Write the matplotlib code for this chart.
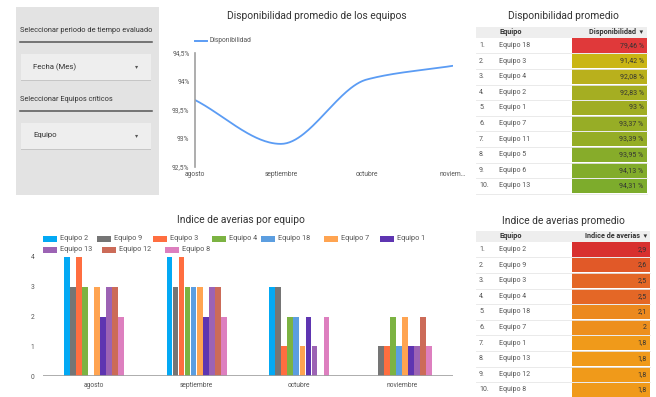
import numpy as np
import matplotlib
matplotlib.use("Agg")
import matplotlib.pyplot as plt
from matplotlib.patches import Rectangle
from matplotlib.colors import LinearSegmentedColormap, to_rgb

plt.rcParams['font.family'] = ['Roboto', 'DejaVu Sans']

# ---------------- data ----------------
months = ["agosto", "septiembre", "octubre", "noviembre"]
month_labels = ["agosto", "septiembre", "octubre", "noviem…"]
disponibilidad = [93.67, 92.90, 94.03, 94.27]

series_names = ["Equipo 2", "Equipo 9", "Equipo 3", "Equipo 4", "Equipo 18",
                "Equipo 7", "Equipo 1", "Equipo 13", "Equipo 12", "Equipo 8"]
eq2 = [4, 4, 3, 0]
eq9 = [3, 3, 3, 1]
eq3 = [4, 4, 1, 1]
eq4 = [3, 3, 2, 2]
eq18 = [0, 3, 2, 1]
eq7 = [3, 3, 1, 2]
eq1 = [2, 2, 2, 1]
eq13 = [3, 3, 1, 1]
eq12 = [3, 3, 0, 2]
eq8 = [2, 2, 2, 1]
series_values = [eq2, eq9, eq3, eq4, eq18, eq7, eq1, eq13, eq12, eq8]
series_colors = ["#03a9f4", "#757575", "#ff6e40", "#7cb342", "#5c9ee0",
                 "#ffa451", "#5e35b1", "#9c63b4", "#cc6b58", "#dd7fbf"]

disp_equipos = ["Equipo 18", "Equipo 3", "Equipo 4", "Equipo 2", "Equipo 1",
                "Equipo 7", "Equipo 11", "Equipo 5", "Equipo 6", "Equipo 13"]
disp_values = [79.46, 91.42, 92.08, 92.83, 93.0, 93.37, 93.39, 93.95, 94.13, 94.31]

aver_equipos = ["Equipo 2", "Equipo 9", "Equipo 3", "Equipo 4", "Equipo 18",
                "Equipo 7", "Equipo 1", "Equipo 13", "Equipo 12", "Equipo 8"]
aver_values = [2.9, 2.6, 2.5, 2.5, 2.1, 2.0, 1.8, 1.8, 1.8, 1.8]

# ---------------- figure ----------------
W, H = 656, 397
fig = plt.figure(figsize=(W / 100, H / 100), dpi=100)
fig.patch.set_facecolor("white")

ov = fig.add_axes([0, 0, 1, 1], zorder=0)
ov.set_xlim(0, W)
ov.set_ylim(H, 0)
ov.axis("off")


def add_ax(x0, y0, x1, y1):
    a = fig.add_axes([x0 / W, 1 - y1 / H, (x1 - x0) / W, (y1 - y0) / H], zorder=2)
    a.patch.set_alpha(0)
    return a


def fmt(v, dec=2):
    s = f"{v:.{dec}f}".rstrip("0").rstrip(".")
    return s.replace(".", ",")


TXT = "#333333"
LBL = "#555555"

# ---------------- left filter panel ----------------
ov.add_patch(Rectangle((16, 7), 143, 188, facecolor="#e3e3e3", edgecolor="none"))
ov.text(20.5, 31, "Seleccionar periodo de tiempo evaluado", fontsize=5.3, color=TXT, va="center")
ov.plot([20, 152], [42.3, 42.3], color="#555555", lw=1.1)
ov.add_patch(Rectangle((21, 55.3), 130, 26, facecolor="#c6c6c6", edgecolor="none"))
ov.add_patch(Rectangle((20.5, 54.3), 130, 26, facecolor="#eeeeee", edgecolor="none"))
ov.text(33, 67, "Fecha (Mes)", fontsize=5.6, color=TXT, va="center")
ov.text(137, 67, "▾", fontsize=4.5, color=LBL, va="center", ha="center")
ov.text(20.5, 99.5, "Seleccionar Equipos críticos", fontsize=5.3, color=TXT, va="center")
ov.plot([20, 152], [111, 111], color="#555555", lw=1.1)
ov.add_patch(Rectangle((21, 123.7), 130, 26, facecolor="#c6c6c6", edgecolor="none"))
ov.add_patch(Rectangle((20.5, 122.7), 130, 26, facecolor="#eeeeee", edgecolor="none"))
ov.text(33, 135.5, "Equipo", fontsize=5.6, color=TXT, va="center")
ov.text(137, 135.5, "▾", fontsize=4.5, color=LBL, va="center", ha="center")

# ---------------- line chart ----------------
line_color = "#5b9cf4"
ov.text(317, 16, "Disponibilidad promedio de los equipos", fontsize=7.4, color=TXT,
        ha="center", va="center")
ov.plot([195, 207], [41, 41], color=line_color, lw=1.4)
ov.text(210, 41, "Disponibilidad", fontsize=4.8, color=LBL, va="center")

axl = add_ax(195, 52.7, 452.7, 166.7)
x = np.arange(len(months), dtype=float)
y = np.array(disponibilidad)
# monotone cubic (Fritsch-Carlson) for the smooth rendering of the line
d = np.diff(y) / np.diff(x)
m = np.zeros_like(y)
m[0], m[-1] = d[0], d[-1]
for i in range(1, len(y) - 1):
    m[i] = 0.0 if d[i - 1] * d[i] <= 0 else 2 / (1 / d[i - 1] + 1 / d[i])
xs, ys = [], []
for i in range(len(y) - 1):
    t = np.linspace(0, 1, 60)
    h = x[i + 1] - x[i]
    h00 = 2 * t**3 - 3 * t**2 + 1
    h10 = t**3 - 2 * t**2 + t
    h01 = -2 * t**3 + 3 * t**2
    h11 = t**3 - t**2
    xs.append(x[i] + t * h)
    ys.append(h00 * y[i] + h10 * h * m[i] + h01 * y[i + 1] + h11 * h * m[i + 1])
axl.plot(np.concatenate(xs), np.concatenate(ys), color=line_color, lw=1.3,
         solid_capstyle="round")
axl.set_xlim(0, 3)
axl.set_ylim(92.5, 94.5)
yt = [92.5, 93.0, 93.5, 94.0, 94.5]
axl.set_yticks(yt)
axl.set_yticklabels([fmt(v, 1) + "%" for v in yt])
axl.set_xticks(x)
axl.set_xticklabels(month_labels)
for s in ["top", "right", "bottom"]:
    axl.spines[s].set_visible(False)
axl.spines["left"].set_color("#a0a0a0")
axl.spines["left"].set_linewidth(1.2)
axl.tick_params(axis="both", length=0, labelsize=4.8, labelcolor=LBL)
axl.tick_params(axis="y", pad=4)
axl.tick_params(axis="x", pad=3)

# ---------------- tables ----------------
def draw_table(title, title_y, top, right, colname, equipos, values, colors, labels):
    left = 476
    hdr_h = 11
    row_h = 15.6
    ov.text(563, title_y, title, fontsize=7.4, color=TXT, ha="center", va="center")
    ov.add_patch(Rectangle((left, top), right - left, hdr_h, facecolor="#eeeeee",
                           edgecolor="none"))
    ov.text(499, top + hdr_h / 2, "Equipo", fontsize=5.2, color=TXT, fontweight="bold",
            va="center")
    ov.text(right - 3, top + hdr_h / 2, colname + "  ▾", fontsize=5.2, color=TXT,
            fontweight="bold", va="center", ha="right")
    for i, (eq, v, c, lab) in enumerate(zip(equipos, values, colors, labels)):
        y0 = top + hdr_h + i * row_h
        ov.add_patch(Rectangle((572.3, y0 + 0.5), right - 572.3, row_h - 1,
                               facecolor=c, edgecolor="none"))
        ov.plot([left, right], [y0 + row_h, y0 + row_h], color="#e6e6e6", lw=0.6)
        ov.text(479, y0 + row_h / 2, f"{i + 1}.", fontsize=5, color=LBL, va="center")
        ov.text(499, y0 + row_h / 2, eq, fontsize=5, color=LBL, va="center")
        ov.text(right - 3, y0 + row_h / 2, lab, fontsize=5, color=TXT, va="center",
                ha="right")


dv = np.array(disp_values)
nd = (dv - dv.min()) / (dv.max() - dv.min())
cmap_d = LinearSegmentedColormap.from_list(
    "d", [(0.0, "#e0393a"), (0.805, "#cbb614"), (0.87, "#b2ae1f"), (1.0, "#7dac2c")])
disp_colors = [cmap_d(v) for v in nd]
draw_table("Disponibilidad promedio", 16, 26.7, 646.5, "Disponibilidad", disp_equipos,
           disp_values, disp_colors, [fmt(v) + " %" for v in disp_values])

av = np.array(aver_values)
na = (av - av.min()) / (av.max() - av.min())
cmap_a = LinearSegmentedColormap.from_list("a", ["#f09a1a", "#e97b22", "#d8302f"])
aver_colors = [cmap_a(v) for v in na]
draw_table("Indice de averias promedio", 220.7, 230.7, 650, "Indice de averias",
           aver_equipos, aver_values, aver_colors, [fmt(v, 1) for v in aver_values])

# ---------------- bar chart ----------------
ov.text(241, 220, "Indice de averias por equipo", fontsize=7.4, color=TXT,
        ha="center", va="center")
leg_pos = [(42.7, 239), (97.3, 239), (153.3, 239), (211.7, 239), (261, 239),
           (324.3, 239), (380, 239), (42.7, 249.5), (101.7, 249.5), (165, 249.5)]
for (lx, ly), name, col in zip(leg_pos, series_names, series_colors):
    ov.add_patch(Rectangle((lx, ly - 3), 14, 6, facecolor=col, edgecolor="none"))
    ov.text(lx + 17, ly, name, fontsize=5.2, color=LBL, va="center")

axb = add_ax(42.7, 256.7, 453.3, 376.3)
n = len(series_names)
group = 0.59
bw = group / n
xc = np.arange(len(months))
for i, (vals, col) in enumerate(zip(series_values, series_colors)):
    off = (i - (n - 1) / 2) * bw
    axb.bar(xc + off, vals, width=bw * 0.94, color=col, edgecolor="none", zorder=2)
axb.set_xlim(-0.5, len(months) - 0.5)
axb.set_ylim(0, 4)
axb.axhline(0, color="#a0a0a0", lw=1.2, zorder=3)
axb.set_yticks([0, 1, 2, 3, 4])
axb.set_yticklabels(["0", "1", "2", "3", "4"])
axb.set_xticks(xc)
axb.set_xticklabels(months)
for s in axb.spines.values():
    s.set_visible(False)
axb.tick_params(axis="both", length=0, labelsize=4.8, labelcolor=LBL)
axb.tick_params(axis="y", pad=6)
axb.tick_params(axis="x", pad=4)

fig.savefig("out.png", dpi=100, facecolor="white")
